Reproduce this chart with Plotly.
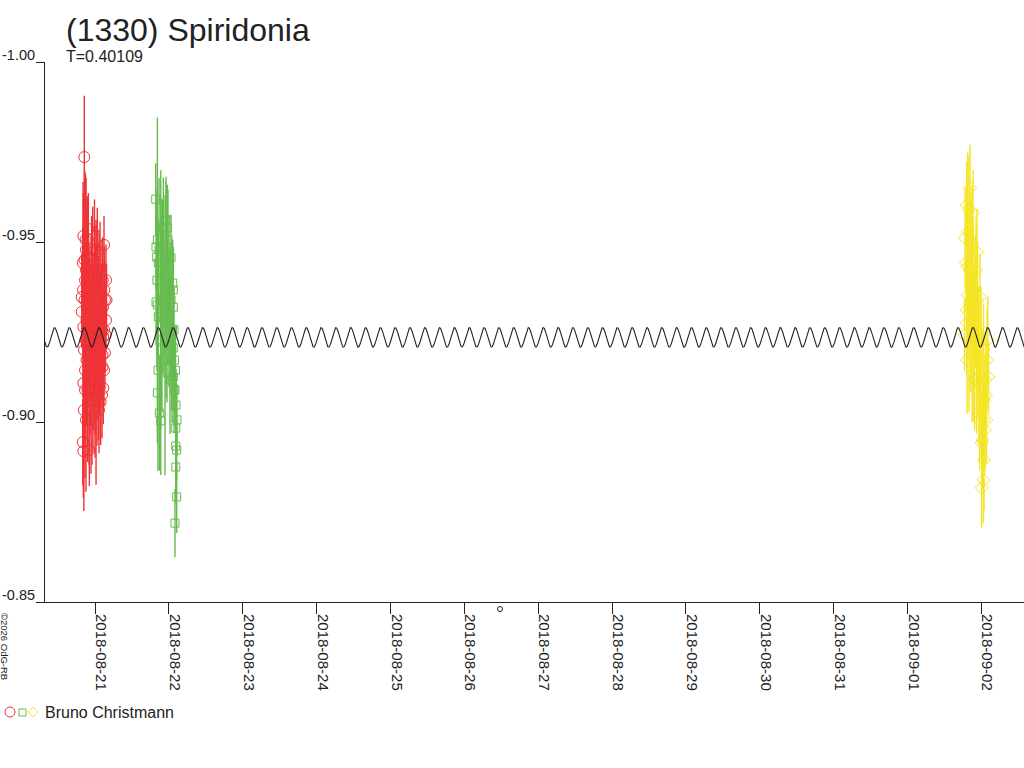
import numpy as np
import pandas as pd
import plotly.graph_objects as go

# Object and fit
object_name = "(1330) Spiridonia"
period_days = 0.40109
observer = "Bruno Christmann"
copyright_text = "©2026 OdG-RB"

# Model (2nd harmonic)
model_mean = -0.9235
model_amp = 0.0027
model_t_peak = 351.554   # JD - 2458000 of a brightness maximum

# Observations, JD - 2458000, relative magnitude, error
red_jd = [351.355, 351.342, 351.334, 351.320, 351.320, 351.342, 351.342, 351.334, 351.342, 351.349,
          351.372, 351.378, 351.358, 351.372, 351.385, 351.365, 351.401, 351.410, 351.410, 351.423,
          351.392, 351.405, 351.419, 351.432, 351.439, 351.446, 351.469, 351.473, 351.486, 351.500,
          351.514, 351.531, 351.527, 351.541, 351.554, 351.561, 351.577, 351.568, 351.581, 351.588,
          351.604, 351.604, 351.612, 351.612, 351.626, 351.635, 351.635, 351.608, 351.649, 351.622,
          351.595, 351.459, 351.453, 351.493, 351.548, 351.378, 351.351, 351.365, 351.622, 351.649,
          351.378, 351.392, 351.412, 351.426, 351.439, 351.453, 351.466, 351.480, 351.493, 351.507,
          351.520, 351.534, 351.548, 351.561, 351.575, 351.588, 351.602, 351.622, 351.642, 351.656,
          351.358, 351.338, 351.385, 351.365, 351.399, 351.419, 351.446, 351.473, 351.500, 351.527,
          351.554, 351.595, 351.514, 351.568]
red_mag = [-0.9736, -0.9517, -0.9442, -0.9347, -0.9306, -0.9264, -0.9108, -0.8944, -0.8919, -0.9033,
           -0.9506, -0.9422, -0.9339, -0.9228, -0.9172, -0.9089, -0.9508, -0.9536, -0.9417, -0.8922,
           -0.9283, -0.9200, -0.9339, -0.9117, -0.9256, -0.9367, -0.9478, -0.9228, -0.9311, -0.9144,
           -0.9186, -0.9475, -0.9339, -0.9228, -0.9394, -0.9172, -0.9056, -0.9283, -0.9367, -0.9208,
           -0.9394, -0.9153, -0.9236, -0.9094, -0.9367, -0.9339, -0.9192, -0.9319, -0.9283, -0.9144,
           -0.9256, -0.9061, -0.9422, -0.9478, -0.9089, -0.9006, -0.9200, -0.9394, -0.9492, -0.9394,
           -0.9478, -0.9394, -0.9311, -0.9256, -0.9172, -0.9297, -0.9353, -0.9158, -0.9256, -0.9339,
           -0.9256, -0.9158, -0.9311, -0.9256, -0.9200, -0.9311, -0.9186, -0.9256, -0.9242, -0.9339,
           -0.9450, -0.9367, -0.9283, -0.9144, -0.9089, -0.9061, -0.9006, -0.9117, -0.9061, -0.9075,
           -0.9033, -0.9075, -0.9422, -0.9436]
red_err = [0.017, 0.012, 0.010, 0.012, 0.010, 0.015, 0.012, 0.012, 0.013, 0.028,
           0.018, 0.020, 0.018, 0.020, 0.018, 0.016, 0.012, 0.010, 0.012, 0.010,
           0.015, 0.016, 0.014, 0.015, 0.014, 0.012, 0.012, 0.020, 0.016, 0.018,
           0.036, 0.012, 0.015, 0.016, 0.014, 0.015, 0.012, 0.014, 0.014, 0.014,
           0.012, 0.012, 0.012, 0.010, 0.012, 0.010, 0.010, 0.012, 0.008, 0.010,
           0.015, 0.018, 0.015, 0.014, 0.014, 0.020, 0.025, 0.030, 0.008, 0.010,
           0.020, 0.020, 0.020, 0.020, 0.018, 0.018, 0.016, 0.018, 0.018, 0.015,
           0.016, 0.015, 0.015, 0.014, 0.014, 0.013, 0.013, 0.012, 0.010, 0.010,
           0.025, 0.030, 0.025, 0.030, 0.020, 0.018, 0.015, 0.020, 0.016, 0.014,
           0.012, 0.012, 0.014, 0.012]

green_jd = [352.322, 352.344, 352.390, 352.462, 352.462, 352.326, 352.335, 352.529, 352.357, 352.425,
            352.479, 352.552, 352.560, 352.326, 352.344, 352.560, 352.357, 352.390, 352.560, 352.560,
            352.583, 352.344, 352.371, 352.390, 352.593, 352.593, 352.606, 352.593, 352.606, 352.583,
            352.407, 352.434, 352.448, 352.353, 352.488, 352.502, 352.515, 352.536, 352.570, 352.543,
            352.597, 352.475, 352.414, 352.515, 352.576, 352.610,
            352.339, 352.367, 352.394, 352.421, 352.448, 352.475, 352.502, 352.529, 352.549, 352.570,
            352.590, 352.488, 352.407, 352.515]
green_mag = [-0.9619, -0.9506, -0.9339, -0.9367, -0.9561, -0.9486, -0.9458, -0.9456, -0.9442, -0.9539,
             -0.9539, -0.9386, -0.9367, -0.9333, -0.9325, -0.9319, -0.9292, -0.9200, -0.9206, -0.9125,
             -0.9089, -0.9081, -0.9025, -0.9003, -0.8983, -0.8933, -0.8922, -0.8875, -0.8792, -0.8719,
             -0.9394, -0.9283, -0.9172, -0.9144, -0.9311, -0.9436, -0.9256, -0.9172, -0.9256, -0.9117,
             -0.9047, -0.9214, -0.9478, -0.9367, -0.9172, -0.9006,
             -0.9394, -0.9478, -0.9422, -0.9339, -0.9450, -0.9394, -0.9256, -0.9339, -0.9256, -0.9089,
             -0.9144, -0.9506, -0.9228, -0.9117]
green_err = [0.010, 0.034, 0.036, 0.030, 0.012, 0.012, 0.012, 0.012, 0.012, 0.014,
             0.012, 0.012, 0.012, 0.012, 0.014, 0.012, 0.012, 0.014, 0.012, 0.010,
             0.010, 0.014, 0.016, 0.015, 0.008, 0.010, 0.008, 0.010, 0.010, 0.0095,
             0.018, 0.016, 0.032, 0.028, 0.015, 0.014, 0.014, 0.014, 0.012, 0.012,
             0.010, 0.016, 0.014, 0.012, 0.010, 0.010,
             0.025, 0.020, 0.020, 0.020, 0.018, 0.018, 0.016, 0.016, 0.014, 0.012,
             0.012, 0.014, 0.020, 0.015]

yellow_jd = [363.347, 363.302, 363.388, 363.279, 363.442, 363.293, 363.482, 363.302, 363.302, 363.577,
             363.395, 363.598, 363.530, 363.505, 363.530, 363.505, 363.316, 363.347, 363.361, 363.333,
             363.306, 363.374, 363.401, 363.415, 363.442, 363.455, 363.469, 363.482, 363.509, 363.537,
             363.550, 363.537, 363.428, 363.374, 363.272, 363.588, 363.320, 363.408, 363.496, 363.564,
             363.313, 363.333, 363.354, 363.367, 363.388, 363.401, 363.421, 363.435, 363.449, 363.462,
             363.476, 363.489, 363.516, 363.530, 363.557, 363.570]
yellow_mag = [-0.9650, -0.9603, -0.9581, -0.9511, -0.9472, -0.9442, -0.9347, -0.9311, -0.9275, -0.9172,
              -0.9122, -0.9125, -0.9006, -0.8942, -0.8839, -0.8817, -0.9528, -0.9422, -0.9339, -0.9228,
              -0.9172, -0.9200, -0.9283, -0.9367, -0.9256, -0.9172, -0.9089, -0.9033, -0.9117, -0.9061,
              -0.8978, -0.8894, -0.9422, -0.9497, -0.9242, -0.9228, -0.9353, -0.9117, -0.9256, -0.9075,
              -0.9431, -0.9589, -0.9283, -0.9450, -0.9367, -0.9200, -0.9311, -0.9117, -0.9339, -0.9228,
              -0.9006, -0.9172, -0.8950, -0.9200, -0.9117, -0.9006]
yellow_err = [0.012, 0.012, 0.012, 0.014, 0.012, 0.014, 0.012, 0.014, 0.014, 0.014,
              0.012, 0.010, 0.010, 0.010, 0.012, 0.011, 0.022, 0.020, 0.020, 0.020,
              0.015, 0.020, 0.015, 0.015, 0.016, 0.016, 0.015, 0.014, 0.014, 0.012,
              0.012, 0.014, 0.014, 0.016, 0.010, 0.012, 0.018, 0.014, 0.012, 0.010,
              0.018, 0.015, 0.020, 0.018, 0.018, 0.016, 0.016, 0.015, 0.016, 0.015,
              0.014, 0.014, 0.014, 0.013, 0.012, 0.012]

# Axis ticks
y_tickvals = [-1.00, -0.95, -0.90, -0.85]
y_ticktext = ["-1.00", "-0.95", "-0.90", "-0.85"]
x_range = ["2018-08-20 07:45", "2018-09-02 13:52"]

JD0 = 2458000.0


def jd_to_date(jd):
    return pd.to_datetime(np.asarray(jd) + JD0 - 2440587.5, unit="D")


RED = "#ee3338"
GREEN = "#66bb4f"
YELLOW = "#f4e423"
INK = "#222222"
FONT = "Liberation Sans, Arial, sans-serif"

fig = go.Figure()

series = [
    (red_jd, red_mag, red_err, RED, "circle-open", 11),
    (green_jd, green_mag, green_err, GREEN, "square-open", 8),
    (yellow_jd, yellow_mag, yellow_err, YELLOW, "diamond-open", 10),
]
for jd, mag, err, color, symbol, size in series:
    fig.add_trace(go.Scatter(
        x=jd_to_date(jd), y=mag, mode="markers",
        marker=dict(symbol=symbol, size=size, color=color, line=dict(width=1, color=color)),
        error_y=dict(type="data", array=err, width=0, thickness=1.4, color=color),
        showlegend=False, hoverinfo="skip",
    ))

# Fitted lightcurve model across the whole window
t_model = np.arange(350.80, 364.10, 0.004)
mag_model = model_mean - model_amp * np.cos(4 * np.pi * (t_model - model_t_peak) / period_days)
fig.add_trace(go.Scatter(
    x=jd_to_date(t_model), y=mag_model, mode="lines",
    line=dict(color=INK, width=1.1), showlegend=False, hoverinfo="skip",
))

# pixel helpers for decorations outside the plot area
L, R, T, B = 45, 1024, 62, 602


def px(xp):
    return (xp - L) / (R - L)


def py(yp):
    return (B - yp) / (B - T)


annotations = [
    dict(text=object_name, x=px(64), y=py(30), font=dict(size=32, color=INK)),
    dict(text=f"T={period_days}", x=px(64), y=py(57), font=dict(size=16, color=INK)),
    dict(text=observer, x=px(43), y=py(712), font=dict(size=16, color=INK)),
]
for a in annotations:
    a.update(xanchor="left")
annotations.append(dict(text=copyright_text, x=px(5), y=py(646), xanchor="center",
                        textangle=90, font=dict(size=9.5, color=INK)))
for a in annotations:
    a.update(xref="paper", yref="paper", yanchor="middle", showarrow=False)

shapes = [
    # legend symbols
    dict(type="circle", x0=px(5), x1=px(15), y0=py(717), y1=py(707), line=dict(color=RED, width=1)),
    dict(type="rect", x0=px(19), x1=px(26), y0=py(716), y1=py(709), line=dict(color=GREEN, width=1)),
    dict(type="path", path=f"M {px(28)},{py(712)} L {px(33)},{py(707)} L {px(38)},{py(712)} L {px(33)},{py(717)} Z",
         line=dict(color=YELLOW, width=1)),
    # mid-window marker under the axis
    dict(type="circle", x0=px(497.5), x1=px(502.5), y0=py(611.5), y1=py(606.5), line=dict(color=INK, width=1)),
]
for s in shapes:
    s.update(xref="paper", yref="paper")

fig.update_layout(
    width=1024, height=768,
    margin=dict(l=L, r=1024 - R, t=T, b=768 - B, pad=0, autoexpand=False),
    paper_bgcolor="white", plot_bgcolor="white",
    font=dict(family=FONT, color=INK, size=15),
    annotations=annotations, shapes=shapes,
    showlegend=False,
)
fig.update_xaxes(
    type="date", range=x_range, tick0="2018-08-21", dtick=86400000, tickformat="%Y-%m-%d",
    tickangle=90, ticks="outside", ticklen=11, tickcolor=INK, tickwidth=1,
    showline=True, linecolor=INK, linewidth=1, showgrid=False, zeroline=False, automargin=False,
    ticklabelshift=6, ticklabelstandoff=-3, tickfont=dict(size=15, color=INK),
)
fig.update_yaxes(
    range=[-0.85, -1.00], tickvals=y_tickvals, ticktext=y_ticktext,
    ticks="outside", ticklen=8, tickcolor=INK, tickwidth=1,
    showline=True, linecolor=INK, linewidth=1, showgrid=False, zeroline=False, automargin=False,
    ticklabelshift=7, ticklabelstandoff=-2, tickfont=dict(size=14.5, color=INK),
)

# page body has a default margin; drop it so the 1024x768 figure fills the window
fig.write_html("out.html", config={"displayModeBar": False},
               post_script="document.body.style.margin='0';")
